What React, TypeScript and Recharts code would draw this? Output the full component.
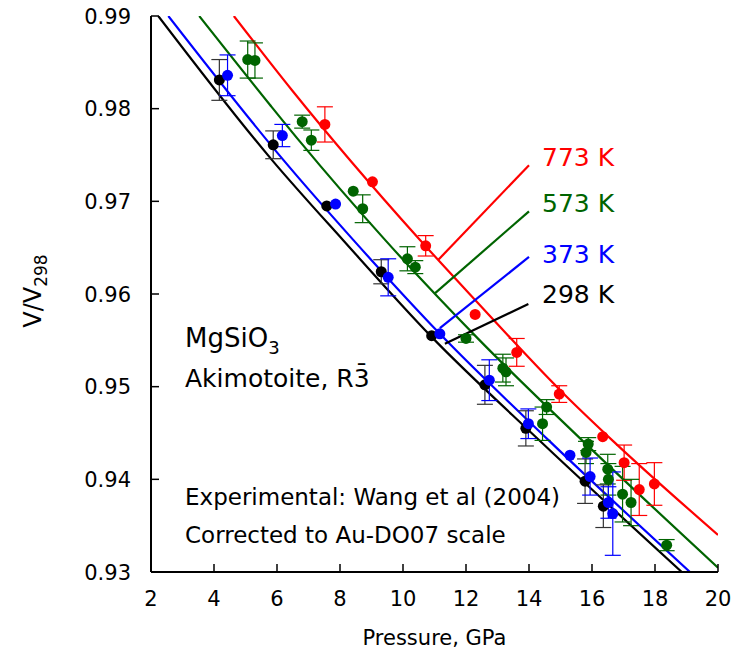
import React from 'react';
import { ComposedChart, Line, Scatter, XAxis, YAxis, ErrorBar } from 'recharts';

const xTicks = [2, 4, 6, 8, 10, 12, 14, 16, 18, 20];
const yTicks = [0.93, 0.94, 0.95, 0.96, 0.97, 0.98, 0.99];

// fitted curves
const fit298 = [
  { x: 2.23, y: 0.99 }, { x: 5.83, y: 0.9745 }, { x: 8.1, y: 0.9658 },
  { x: 10.9, y: 0.9554 }, { x: 14.3, y: 0.9443 }, { x: 18.85, y: 0.93 },
];
const fit373 = [
  { x: 2.55, y: 0.99 }, { x: 6.2, y: 0.97447 }, { x: 8.42, y: 0.96584 },
  { x: 11.17, y: 0.9557 }, { x: 14.61, y: 0.94426 }, { x: 19.11, y: 0.93 },
];
const fit573 = [
  { x: 3.53, y: 0.99 }, { x: 5.78, y: 0.9804 }, { x: 6.73, y: 0.97644 },
  { x: 9.43, y: 0.96584 }, { x: 12.42, y: 0.95505 }, { x: 15.67, y: 0.94426 },
  { x: 20, y: 0.93047 },
];
const fit773 = [
  { x: 4.63, y: 0.99 }, { x: 6.47, y: 0.98202 }, { x: 10.49, y: 0.96602 },
  { x: 12.29, y: 0.95936 }, { x: 14.98, y: 0.94965 }, { x: 16.68, y: 0.9441 },
  { x: 20, y: 0.934 },
];

// leader lines from curves to temperature labels
const lead773 = [{ x: 11.13, y: 0.96372 }, { x: 14.0, y: 0.9739 }];
const lead573 = [{ x: 11.02, y: 0.96009 }, { x: 14.0, y: 0.96892 }];
const lead373 = [{ x: 11.17, y: 0.95631 }, { x: 14.0, y: 0.964 }];
const lead298 = [{ x: 11.33, y: 0.95462 }, { x: 13.98, y: 0.95893 }];

// experimental points: x = pressure, y = V/V298, e = error
const exp298 = [
  { x: 4.17, y: 0.9831, e: 0.0022 }, { x: 5.88, y: 0.9761, e: 0.0015 },
  { x: 7.58, y: 0.9695, e: 0 }, { x: 9.31, y: 0.9624, e: 0.0013 },
  { x: 10.91, y: 0.9555, e: 0 }, { x: 12.6, y: 0.9502, e: 0.0021 },
  { x: 13.9, y: 0.9455, e: 0.0019 }, { x: 15.78, y: 0.9398, e: 0.0024 },
  { x: 16.36, y: 0.9371, e: 0.0023 },
];
const exp373 = [
  { x: 4.43, y: 0.9836, e: 0.0022 }, { x: 6.17, y: 0.9771, e: 0.0012 },
  { x: 7.86, y: 0.9697, e: 0 }, { x: 9.53, y: 0.9618, e: 0.002 },
  { x: 11.17, y: 0.9557, e: 0 }, { x: 12.74, y: 0.9507, e: 0.0022 },
  { x: 13.98, y: 0.946, e: 0.0016 }, { x: 15.3, y: 0.9426, e: 0 },
  { x: 15.94, y: 0.9403, e: 0.002 }, { x: 16.52, y: 0.9375, e: 0.0017 },
  { x: 16.66, y: 0.9363, e: 0.0045 },
];
const exp573 = [
  { x: 5.07, y: 0.9853, e: 0.002 }, { x: 5.3, y: 0.9852, e: 0.0019 },
  { x: 6.8, y: 0.9786, e: 0.0007 }, { x: 7.09, y: 0.9766, e: 0.0011 },
  { x: 8.42, y: 0.9711, e: 0 }, { x: 8.72, y: 0.9692, e: 0.0015 },
  { x: 10.14, y: 0.9638, e: 0.0013 }, { x: 10.39, y: 0.9629, e: 0.0007 },
  { x: 12.0, y: 0.9552, e: 0.0004 }, { x: 13.17, y: 0.952, e: 0.0015 },
  { x: 13.27, y: 0.9516, e: 0.0015 }, { x: 14.43, y: 0.946, e: 0.0018 },
  { x: 14.56, y: 0.9478, e: 0.0008 }, { x: 15.81, y: 0.9429, e: 0.0012 },
  { x: 15.88, y: 0.9438, e: 0.0007 }, { x: 16.5, y: 0.9411, e: 0.0016 },
  { x: 16.52, y: 0.94, e: 0.0017 }, { x: 16.97, y: 0.9384, e: 0.003 },
  { x: 17.24, y: 0.9375, e: 0.0025 }, { x: 18.37, y: 0.9329, e: 0.0006 },
];
const exp773 = [
  { x: 7.52, y: 0.9783, e: 0.0019 }, { x: 9.03, y: 0.9721, e: 0 },
  { x: 10.72, y: 0.9652, e: 0.0011 }, { x: 12.29, y: 0.9578, e: 0 },
  { x: 13.61, y: 0.9537, e: 0.0015 }, { x: 14.96, y: 0.9492, e: 0.0009 },
  { x: 16.34, y: 0.9446, e: 0 }, { x: 17.02, y: 0.9418, e: 0.0019 },
  { x: 17.5, y: 0.9389, e: 0.0028 }, { x: 17.98, y: 0.9395, e: 0.0023 },
];

const C298 = '#000000';
const C373 = '#0000ff';
const C573 = '#006400';
const C773 = '#ff0000';

const FONT = '"DejaVu Sans", sans-serif';

const BottomTick = (p: any) => (
  <g>
    <line x1={p.x} x2={p.x} y1={p.y} y2={p.y - 8} stroke="#000" strokeWidth={1.5} />
    <text x={p.x} y={p.y + 34} textAnchor="middle" fontSize={21} fill="#000" fontFamily={FONT}>
      {p.payload.value}
    </text>
  </g>
);
const TopTick = (p: any) => (
  <line x1={p.x} x2={p.x} y1={p.y} y2={p.y + 8} stroke="#000" strokeWidth={1.5} />
);
const LeftTick = (p: any) => (
  <g>
    <line x1={p.x} x2={p.x + 8} y1={p.y} y2={p.y} stroke="#000" strokeWidth={1.5} />
    <text x={p.x - 20} y={p.y + 7.6} textAnchor="end" fontSize={21} fill="#000" fontFamily={FONT}>
      {Number(p.payload.value).toFixed(2)}
    </text>
  </g>
);
const RightTick = (p: any) => (
  <line x1={p.x} x2={p.x - 8} y1={p.y} y2={p.y} stroke="#000" strokeWidth={1.5} />
);

const dot = (color: string) => (p: any) => <circle cx={p.cx} cy={p.cy} r={5.5} fill={color} />;

const W = 731;
const H = 657;

export default function App() {
  const axisLine = { stroke: '#000', strokeWidth: 2 };
  return (
    <div style={{ position: 'relative', width: W, height: H, marginTop: -8, fontFamily: FONT }}>
      <ComposedChart width={W} height={H} margin={{ top: 16, right: 21, left: 0, bottom: 25 }}>
        <XAxis dataKey="x" type="number" domain={[2, 20]} ticks={xTicks} interval={0}
          allowDataOverflow height={60} tickSize={0} tickMargin={0} tickLine={false}
          axisLine={axisLine} tick={BottomTick} />
        <XAxis xAxisId="top" orientation="top" dataKey="x" type="number" domain={[2, 20]}
          ticks={xTicks} interval={0} allowDataOverflow height={0} tickSize={0} tickMargin={0}
          tickLine={false} axisLine={axisLine} tick={TopTick} />
        <YAxis dataKey="y" type="number" domain={[0.93, 0.99]} ticks={yTicks} interval={0}
          allowDataOverflow width={143} tickSize={0} tickMargin={0} tickLine={false}
          axisLine={axisLine} tick={LeftTick} />
        <YAxis yAxisId="right" orientation="right" dataKey="y" type="number" domain={[0.93, 0.99]}
          ticks={yTicks} interval={0} allowDataOverflow width={0} tickSize={0} tickMargin={0}
          tickLine={false} axisLine={axisLine} tick={RightTick} />

        <Line data={fit773} dataKey="y" type="monotone" stroke={C773} strokeWidth={2.2} dot={false} isAnimationActive={false} />
        <Line data={fit573} dataKey="y" type="monotone" stroke={C573} strokeWidth={2.2} dot={false} isAnimationActive={false} />
        <Line data={fit373} dataKey="y" type="monotone" stroke={C373} strokeWidth={2.2} dot={false} isAnimationActive={false} />
        <Line data={fit298} dataKey="y" type="monotone" stroke={C298} strokeWidth={2.2} dot={false} isAnimationActive={false} />

        <Line data={lead773} dataKey="y" type="linear" stroke={C773} strokeWidth={2.2} dot={false} isAnimationActive={false} />
        <Line data={lead573} dataKey="y" type="linear" stroke={C573} strokeWidth={2.2} dot={false} isAnimationActive={false} />
        <Line data={lead373} dataKey="y" type="linear" stroke={C373} strokeWidth={2.2} dot={false} isAnimationActive={false} />
        <Line data={lead298} dataKey="y" type="linear" stroke={C298} strokeWidth={2.2} dot={false} isAnimationActive={false} />

        <Scatter data={exp773} dataKey="y" shape={dot(C773)} isAnimationActive={false}>
          <ErrorBar dataKey="e" direction="y" width={8} stroke={C773} strokeWidth={1.2} />
        </Scatter>
        <Scatter data={exp573} dataKey="y" shape={dot(C573)} isAnimationActive={false}>
          <ErrorBar dataKey="e" direction="y" width={8} stroke={C573} strokeWidth={1.2} />
        </Scatter>
        <Scatter data={exp298} dataKey="y" shape={dot(C298)} isAnimationActive={false}>
          <ErrorBar dataKey="e" direction="y" width={8} stroke="#333" strokeWidth={1.2} />
        </Scatter>
        <Scatter data={exp373} dataKey="y" shape={dot(C373)} isAnimationActive={false}>
          <ErrorBar dataKey="e" direction="y" width={8} stroke={C373} strokeWidth={1.2} />
        </Scatter>
      </ComposedChart>
      <svg width={W} height={H} style={{ position: 'absolute', left: 0, top: 0, pointerEvents: 'none' }}
        fontFamily={FONT}>
        <text transform="translate(33,291) rotate(-90)" textAnchor="middle" fontSize={24} fill="#000">
          V/V<tspan fontSize={17} dy={6}>298</tspan>
        </text>
        <text x={426.5} y={645} textAnchor="middle" fontSize={21} fill="#000">Pressure, GPa</text>

        <text x={177} y={347} fontSize={26} fill="#000">MgSiO<tspan fontSize={18} dy={7}>3</tspan></text>
        <text x={177} y={387} fontSize={25} fill="#000">Akimotoite, R3&#x0304;</text>
        <text x={177} y={505} fontSize={23} fill="#000">Experimental: Wang et al (2004)</text>
        <text x={177} y={543} fontSize={23} fill="#000">Corrected to Au-DO07 scale</text>

        <text x={534} y={166} fontSize={25} fill={C773}>773 K</text>
        <text x={534} y={212} fontSize={25} fill={C573}>573 K</text>
        <text x={534} y={263} fontSize={25} fill={C373}>373 K</text>
        <text x={534} y={303} fontSize={25} fill={C298}>298 K</text>
      </svg>
    </div>
  );
}
